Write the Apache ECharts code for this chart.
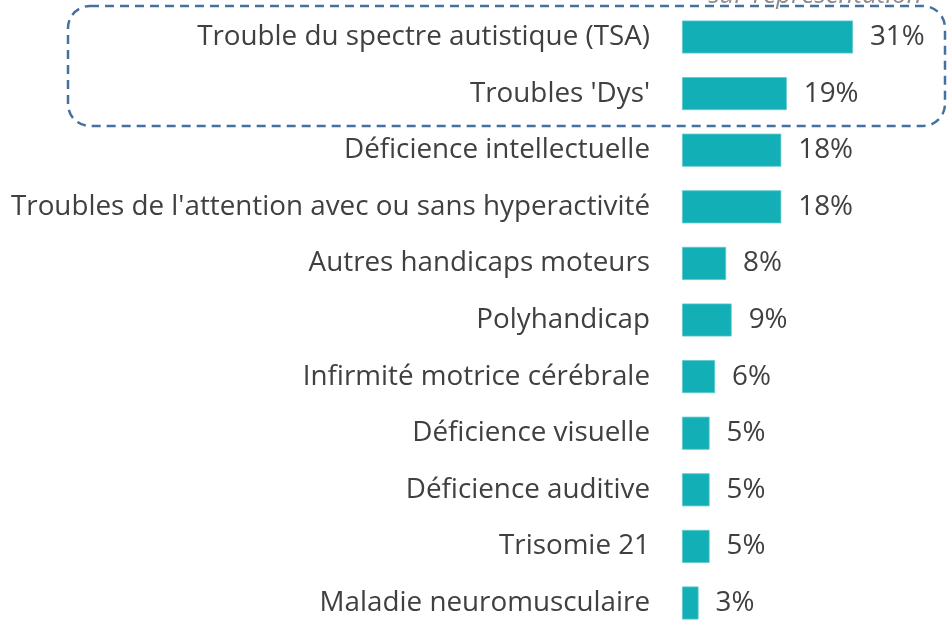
<!DOCTYPE html>
<html><head><meta charset="utf-8">
<script src="https://cdn.jsdelivr.net/npm/echarts@6/dist/echarts.min.js"></script>
<style>html,body{margin:0;padding:0;background:#fff;overflow:hidden}#c{width:947px;height:640px}</style>
</head><body><div id="c"></div>
<script>
const categories = [
  "Trouble du spectre autistique (TSA)",
  "Troubles 'Dys'",
  "Déficience intellectuelle",
  "Troubles de l'attention avec ou sans hyperactivité",
  "Autres handicaps moteurs",
  "Polyhandicap",
  "Infirmité motrice cérébrale",
  "Déficience visuelle",
  "Déficience auditive",
  "Trisomie 21",
  "Maladie neuromusculaire"
];
const values = [31, 19, 18, 18, 8, 9, 6, 5, 5, 5, 3];
const annotationText = "sur-représentation";

const chart = echarts.init(document.getElementById('c'), null, {renderer: 'canvas'});
const FONT = 'Open Sans';
chart.setOption({
  animation: false,
  grid: {left: 682, width: 220.6, top: 8.7, height: 622.6, containLabel: false},
  xAxis: {type: 'value', min: 0, max: 40, show: false},
  yAxis: {
    type: 'category', data: categories, inverse: true,
    axisLine: {show: false}, axisTick: {show: false},
    axisLabel: {fontFamily: FONT, fontSize: 27.8, color: '#404040', margin: 32, padding: [4, 0, 0, 0]}
  },
  series: [{
    type: 'bar', data: values, barWidth: 33,
    itemStyle: {color: '#12AFB6', borderColor: '#5cc8cc', borderWidth: 0.8},
    label: {show: true, position: 'right', distance: 17, formatter: '{c}%',
      fontFamily: FONT, fontSize: 27.8, color: '#404040', padding: [4, 0, 0, 0]}
  }],
  graphic: [
    {type: 'rect', shape: {x: 68, y: 6, width: 877, height: 120, r: 22},
     style: {fill: 'none', stroke: '#4472A0', lineWidth: 2.5, lineDash: [9, 6]}, z: 10},
    {type: 'text', x: 815, y: 9, style: {text: annotationText, fontFamily: FONT, fontStyle: 'italic',
      fontSize: 26, fill: '#8c8c8c', align: 'center', verticalAlign: 'bottom'}, z: 5}
  ]
});
</script></body></html>
